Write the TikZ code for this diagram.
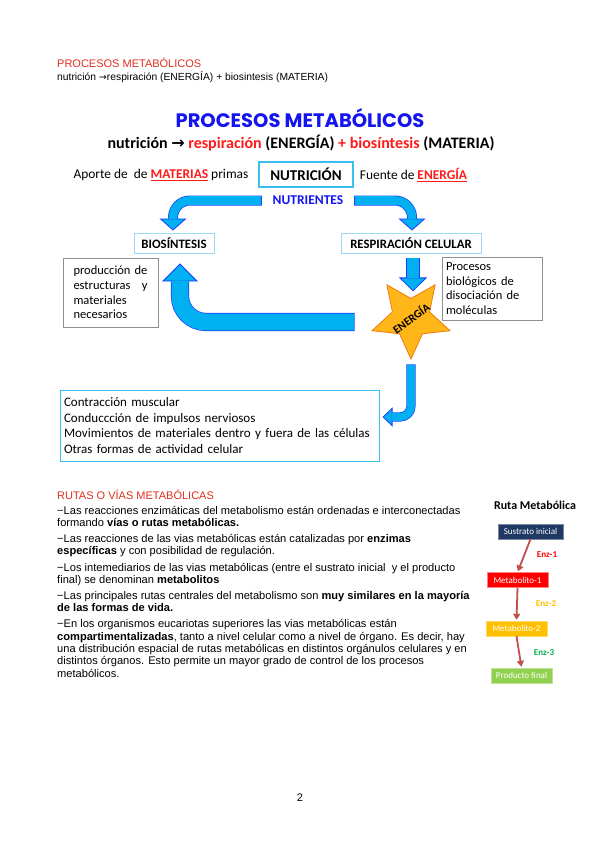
\documentclass[tikz,border=0pt]{standalone}
\usepackage{fontspec}
\setmainfont{Liberation Sans}
\newfontfamily\calibri{Carlito}
\newfontfamily\comic{Poppins}
\newfontfamily\dejavu{DejaVu Sans}
\usetikzlibrary{arrows.meta,calc,positioning,shapes.geometric}

\definecolor{hdred}{HTML}{E0301E}
\definecolor{keyred}{HTML}{FF1A1A}
\definecolor{titleblue}{HTML}{1414F0}
\definecolor{bandfill}{HTML}{00B0F0}
\definecolor{bandedge}{HTML}{1F3CFF}
\definecolor{boxblue}{HTML}{3DBDEB}
\definecolor{boxlight}{HTML}{9AD9F5}
\definecolor{boxgray}{HTML}{8E8E8E}
\definecolor{starfill}{HTML}{FFB619}
\definecolor{staredge}{HTML}{F27A0C}
\definecolor{navy}{HTML}{203864}
\definecolor{enzred}{HTML}{FF0000}
\definecolor{enzgold}{HTML}{FFC000}
\definecolor{enzgreen}{HTML}{00B050}
\definecolor{leafgreen}{HTML}{92D050}
\definecolor{rutaarrow}{HTML}{C0504D}

\newcommand{\bodyfont}{\fontsize{11.1}{13}\selectfont}

% block arrow: inner width, outer width, head width, head length, radius, path
\newcommand{\bandarrow}[6]{%
  \draw[draw=bandedge, line width=#2pt, rounded corners=#5pt, shorten <=-0.6pt,
    -{Triangle[length=#4pt, width=#3pt, fill=bandfill, line width=0.8pt]}] #6;
  \draw[draw=bandfill, line width=#1pt, rounded corners=#5pt, shorten >=#4pt-0.8pt] #6;
}

\begin{document}
\begin{tikzpicture}[x=1pt,y=-1pt,
  box/.style={draw=boxlight, line width=0.9pt, inner sep=0, font=\calibri\bfseries\fontsize{12.8}{14}\selectfont},
  note/.style={draw=boxgray, line width=1pt, align=left, font=\calibri\fontsize{12.5}{14.6}\selectfont},
  ruta/.style={minimum width=61pt, minimum height=15pt, inner sep=0, font=\calibri\fontsize{9}{11}\selectfont, text=white},
  enz/.style={font=\calibri\bfseries\fontsize{9}{11}\selectfont},
  rutaarr/.style={draw=rutaarrow, line width=1.8pt, -{Triangle[length=6pt,width=7pt]}, shorten >=1pt},
  bodyline/.style={anchor=base west, inner sep=0}
]
\useasboundingbox[fill=white] (0,0) rectangle (599,848);

% page header
\node[anchor=base west, inner sep=0, text=hdred, font=\fontsize{11}{13}\selectfont] (hd) at (57,68) {PROCESOS METABÓLICOS};
\node[anchor=base west, inner sep=0, font=\fontsize{10.3}{12}\selectfont] (hdsub) at (57,81)
  {nutrición {\dejavu\fontsize{9.5}{12}\selectfont →}respiración (ENERGÍA) + biosintesis (MATERIA)};

% diagram
\node[text=titleblue, font=\comic\bfseries\fontsize{19.5}{22}\selectfont] (title) at (300,118) {PROCESOS METABÓLICOS};
\node[font=\calibri\bfseries\fontsize{16}{19}\selectfont] (subtitle) at (301,143)
  {nutrición {\dejavu\bfseries →} \textcolor{keyred}{respiración} (ENERGÍA) \textcolor{keyred}{+ biosíntesis} (MATERIA)};

\node[font=\calibri\fontsize{13.4}{16}\selectfont] (aporte) at (161,175)
  {Aporte de~ de \textcolor{keyred}{\underline{\textbf{MATERIAS}}} primas};
\node[draw=boxblue, line width=1.3pt, minimum width=94pt, minimum height=25pt, inner sep=0,
  font=\calibri\bfseries\fontsize{15}{18}\selectfont] (nutr) at (306,174.5) {NUTRICIÓN};
\node[font=\calibri\fontsize{13.4}{16}\selectfont] (fuente) at (413.5,175)
  {Fuente de \textcolor{keyred}{\underline{\textbf{ENERGÍA}}}};
\node[text=titleblue, font=\calibri\bfseries\fontsize{13.5}{15}\selectfont] (nutrientes) at (308,200.5) {NUTRIENTES};

\node[box, minimum width=80pt, minimum height=20pt] (bio) at (174,243) {BIOSÍNTESIS};
\node[box, minimum width=140pt, minimum height=20pt] (resp) at (411,243) {RESPIRACIÓN CELULAR};

\node[note, text width=74pt, inner xsep=10.5pt, minimum height=69pt] (prod) at (110.5,292.5)
  {producción\hfill de\\ estructuras\hfill y\\ materiales\\ necesarios};
\node[note, text width=92pt, inner xsep=4pt, minimum height=63pt] (proc) at (492,288.5)
  {Procesos\\ biológicos de\\ disociación de\\ moléculas};

\node[star, star points=5, star point ratio=2.1, rotate=36, shape border rotate=144, minimum size=82pt,
  inner sep=0, fill=starfill, draw=staredge, line width=0.8pt,
  font=\calibri\bfseries\fontsize{11.5}{13}\selectfont] (star) at (411,318) {\makebox[0pt]{ENERGÍA}};

\node[draw=boxblue, line width=1pt, text width=311pt, inner xsep=4pt, minimum height=71pt, align=left,
  font=\calibri\fontsize{13}{15.4}\selectfont] (act) at (219.5,425.5)
  {Contracción muscular\\ Conduccción de impulsos nerviosos\\
   Movimientos de materiales dentro y fuera de las células\\ Otras formas de actividad celular};

\coordinate (back) at (354,322);
\bandarrow{8.6}{10}{27}{12}{17}{([xshift=-8pt]nutrientes.west) -| ([xshift=-1pt,yshift=2pt]bio.north)}
\bandarrow{8.6}{10}{27}{12}{17}{([xshift=8pt]nutrientes.east) -| ([xshift=1pt,yshift=2pt]resp.north)}
\bandarrow{16.8}{18.2}{36}{18}{26}{(back) -| ([xshift=6pt,yshift=-10pt]bio.south)}
\bandarrow{11.8}{13.2}{28}{14}{5}{([xshift=2pt,yshift=-5pt]resp.south) -- ([xshift=2pt,yshift=-38pt]resp.south)}
\bandarrow{7.8}{9.2}{19}{10}{11}{(411,365) |- ([xshift=3pt,yshift=8.5pt]act.east)}

% rutas o vias
\node[anchor=base west, inner sep=0, text=hdred, font=\fontsize{11}{13}\selectfont] (rutashd) at (57,499) {RUTAS O VÍAS METABÓLICAS};
\foreach \yy/\txt [count=\i] in {
  514/{−Las reacciones enzimáticas del metabolismo están ordenadas e interconectadas},
  526.3/{formando \textbf{vías o rutas metabólicas.}},
  542.6/{−Las reacciones de las vias metabólicas están catalizadas por \textbf{enzimas}},
  554.9/{\textbf{específicas} y con posibilidad de regulación.},
  571/{−Los intemediarios de las vias metabólicas (entre el sustrato inicial~ y el producto},
  583.3/{final) se denominan \textbf{metabolitos}},
  599.4/{−Las principales rutas centrales del metabolismo son \textbf{muy similares en la mayoría}},
  611.7/{\textbf{de las formas de vida.}},
  627.8/{−En los organismos eucariotas superiores las vias metabólicas están},
  640.1/{\textbf{compartimentalizadas}, tanto a nivel celular como a nivel de órgano. Es decir, hay},
  652.4/{una distribución espacial de rutas metabólicas en distintos orgánulos celulares y en},
  664.7/{distintos órganos. Esto permite un mayor grado de control de los procesos},
  677/{metabólicos.}}
  \node[bodyline] (line\i) at (57,\yy) {\bodyfont\txt};

% ruta metabolica
\node[font=\calibri\bfseries\fontsize{12}{14}\selectfont] (rutatit) at (535,505) {Ruta Metabólica};
\node[ruta, fill=navy, draw=navy!60, minimum width=65pt] (s0) at (530.5,531.5) {Sustrato inicial};
\node[ruta, fill=enzred, draw=enzred!50] (m1) at (517.5,580) {Metabolito-1};
\node[ruta, fill=enzgold, draw=enzgold!60] (m2) at (516.5,628.5) {Metabolito-2};
\node[ruta, fill=leafgreen, draw=leafgreen!60] (pf) at (521.5,675.5) {Producto final};
\node[enz, text=enzred] (e1) at (547,555) {Enz-1};
\node[enz, text=enzgold] (e2) at (546,604) {Enz-2};
\node[enz, text=enzgreen] (e3) at (544,653) {Enz-3};
\draw[rutaarr] (s0.south) -- (m1.north);
\draw[rutaarr] (m1.south) -- (m2.north);
\draw[rutaarr] (m2.south) -- (pf.north);

\node[font=\fontsize{11}{13}\selectfont] (pagenum) at (300,798) {2};
\end{tikzpicture}
\end{document}
